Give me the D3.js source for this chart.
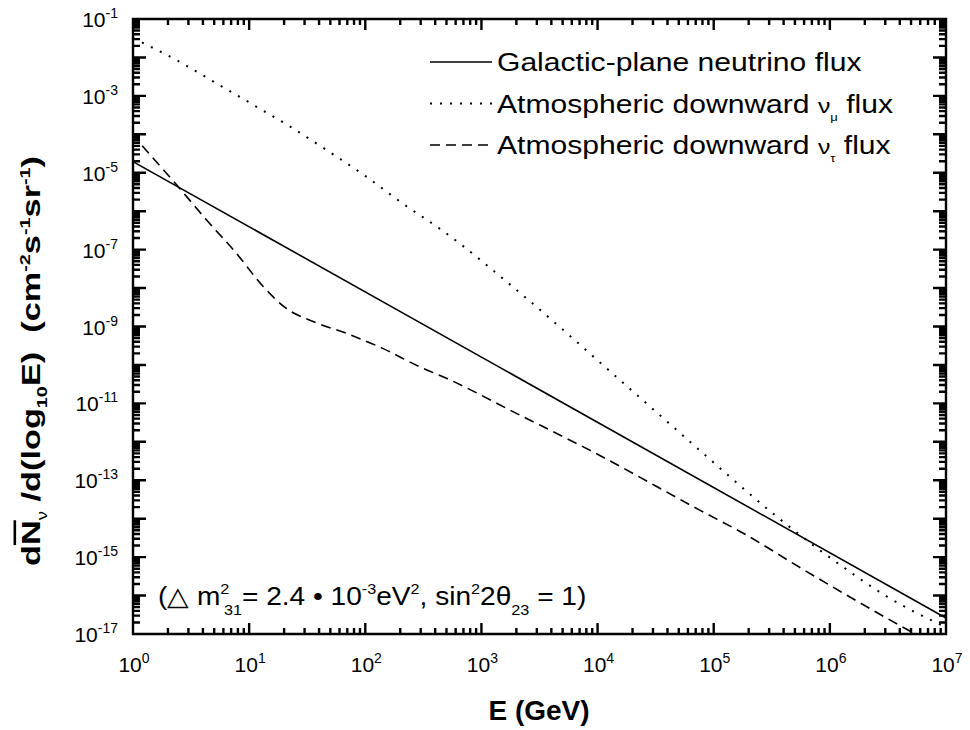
<!DOCTYPE html>
<html><head><meta charset="utf-8">
<script src="https://cdn.jsdelivr.net/npm/d3@7"></script>
<style>
body{margin:0;background:#fff}
svg{display:block}
text{font-family:"Liberation Sans",Arial,sans-serif;fill:#000;white-space:pre}
</style>
</head><body>
<svg id="c" width="970" height="730" xmlns="http://www.w3.org/2000/svg"></svg>
<script>
// ---- data ----
const xTickExponents = [0, 1, 2, 3, 4, 5, 6, 7];
const yTickExponents = [-1, -3, -5, -7, -9, -11, -13, -15, -17];

// Galactic-plane neutrino flux (solid)
const galacticE    = [1, 1e3, 1e7];
const galacticFlux = [1.95e-5, 1.6e-10, 2.6e-17];

// Atmospheric downward nu_mu flux (dotted)
const numuE    = [1, 2.5, 5.25, 10.7, 22.4, 49, 102, 209, 457, 2260, 1.45e4, 1.07e5, 1.55e5, 3.3e5, 7.1e5, 1.48e6, 3.0e6, 1e7];
const numuFlux = [3.2e-2, 7.8e-3, 2.1e-3, 6.0e-4, 1.6e-4, 3.5e-5, 7.9e-6, 1.6e-6, 3.2e-7, 6.6e-9, 4.9e-11, 2.4e-13, 9.0e-14, 1.3e-14, 2.1e-15, 4.2e-16, 1.0e-16, 1.5e-17];

// Atmospheric downward nu_tau flux (dashed)
const nutauE    = [1.2, 2.38, 4.3, 7.8, 13.2, 20.9, 35.5, 69, 141, 295, 500, 2000, 9.1e3, 7.5e4, 1.9e5, 5.4e5, 3.9e6, 5.6e6];
const nutauFlux = [5.0e-5, 4.8e-6, 5.9e-7, 7.9e-8, 1.1e-8, 2.95e-9, 1.35e-9, 6.6e-10, 2.7e-10, 8.9e-11, 4.5e-11, 5.5e-12, 5.5e-13, 1.7e-14, 3.8e-15, 5.6e-16, 1.74e-17, 9.5e-18];

const legendLabels = ["Galactic-plane neutrino flux", "Atmospheric downward ", "Atmospheric downward "];
const legendSubs = [null, "\u03bc", "\u03c4"];

// ---- layout ----
const L = 133, R = 946, T = 19, B = 634;
const svg = d3.select("#c");
const x = d3.scaleLog().domain([1, 1e7]).range([L, R]);
const y = d3.scaleLog().domain([1e-17, 1e-1]).range([B, T]);

const xMajor = xTickExponents.map(e => Math.pow(10, e));
const xMinor = [];
for (let e = 0; e < 7; e++) for (let k = 2; k <= 9; k++) xMinor.push(k * Math.pow(10, e));
const yMajor = d3.range(-17, 0).map(e => Math.pow(10, e));
const yMinor = [];
for (let e = -17; e < -1; e++) for (let k = 2; k <= 9; k++) yMinor.push(k * Math.pow(10, e));

// curves
svg.append("clipPath").attr("id", "pc").append("rect")
  .attr("x", L).attr("y", T).attr("width", R - L).attr("height", B - T);
const line = d3.line().x(d => x(d[0])).y(d => y(d[1])).curve(d3.curveMonotoneX);
const series = [
  {E: galacticE, F: galacticFlux, dash: null, w: 1.6},
  {E: numuE, F: numuFlux, dash: "2,8", w: 2},
  {E: nutauE, F: nutauFlux, dash: "10,6", w: 1.6}
];
series.forEach(s => {
  svg.append("path").attr("clip-path", "url(#pc)")
    .datum(s.E.map((e, i) => [e, s.F[i]]))
    .attr("d", line).attr("fill", "none").attr("stroke", "#000")
    .attr("stroke-width", s.w).attr("stroke-dasharray", s.dash);
});

// frame + inward ticks on all four sides, combined in one path built from the scales
const p = d3.path();
p.moveTo(L, T); p.lineTo(R, T); p.lineTo(R, B); p.lineTo(L, B); p.closePath();
function xt(vals, s) {
  vals.forEach(v => {
    const px = x(v);
    p.moveTo(px, B); p.lineTo(px, B - s);
    p.moveTo(px, T); p.lineTo(px, T + s);
  });
}
function yt(vals, s) {
  vals.forEach(v => {
    const py = y(v);
    p.moveTo(L, py); p.lineTo(L + s, py);
    p.moveTo(R, py); p.lineTo(R - s, py);
  });
}
xt(xMajor, 11); xt(xMinor, 6);
yt(yMajor, 13); yt(yMinor, 7);
svg.append("path").attr("d", p.toString())
  .attr("fill", "none").attr("stroke", "#000").attr("stroke-width", 2.4);

// tick labels
xTickExponents.forEach(e => {
  const t = svg.append("text").attr("x", x(Math.pow(10, e)) + 1).attr("y", 672)
    .attr("text-anchor", "middle").style("font-size", "21px");
  t.append("tspan").text("10");
  t.append("tspan").attr("dy", -9).style("font-size", "14px").text(String(e));
});
yTickExponents.forEach(e => {
  const t = svg.append("text").attr("x", 118).attr("y", y(Math.pow(10, e)) + 8)
    .attr("text-anchor", "end").style("font-size", "21px");
  t.append("tspan").text("10");
  t.append("tspan").attr("dy", -9).style("font-size", "14px").text(String(e));
});

// legend
const legY = [62, 103.5, 145];
series.forEach((s, i) => {
  svg.append("line").attr("x1", 430).attr("x2", 492).attr("y1", legY[i]).attr("y2", legY[i])
    .attr("stroke", "#000").attr("stroke-width", s.w).attr("stroke-dasharray", s.dash);
  const t = svg.append("text").attr("transform", `translate(497,${legY[i] + 9}) scale(1.18,1)`)
    .style("font-size", "25.5px");
  t.append("tspan").text(legendLabels[i]);
  if (legendSubs[i]) {
    t.append("tspan").style("font-size", "21px").text("\u03bd");
    t.append("tspan").attr("dy", 8).style("font-size", "11px").text(legendSubs[i]);
    t.append("tspan").attr("dy", -8).text(" flux");
  }
});

// annotation
{
  const t = svg.append("text").attr("transform", "translate(158,605) scale(1.08,1)").style("font-size", "26px");
  t.append("tspan").text("(\u25b3 m");
  t.append("tspan").attr("dy", -11).style("font-size", "15px").text("2");
  t.append("tspan").attr("dy", 21).attr("dx", -5).style("font-size", "15px").text("31");
  t.append("tspan").attr("dy", -10).text("= 2.4 \u2022 10");
  t.append("tspan").attr("dy", -11).style("font-size", "15px").text("-3");
  t.append("tspan").attr("dy", 11).text("eV");
  t.append("tspan").attr("dy", -11).style("font-size", "15px").text("2");
  t.append("tspan").attr("dy", 11).text(", sin");
  t.append("tspan").attr("dy", -11).style("font-size", "15px").text("2");
  t.append("tspan").attr("dy", 11).text("2\u03b8");
  t.append("tspan").attr("dy", 10).style("font-size", "15px").text("23");
  t.append("tspan").attr("dy", -10).text(" = 1)");
}

// axis titles
svg.append("text").attr("x", 539).attr("y", 720).attr("text-anchor", "middle")
  .style("font-size", "28px").style("font-weight", "bold").text("E (GeV)");

{
  const t = svg.append("text").attr("transform", "translate(40,361) rotate(-90) scale(1.32,1)")
    .attr("text-anchor", "middle").style("font-size", "26px").style("font-weight", "bold");
  t.append("tspan").text("d");
  t.append("tspan").style("text-decoration", "overline").text("N");
  t.append("tspan").attr("dy", 7).style("font-size", "14px").style("font-weight", "normal").text("\u03bd");
  t.append("tspan").attr("dy", -7).text(" /d(log");
  t.append("tspan").attr("dy", 7).style("font-size", "15px").text("10");
  t.append("tspan").attr("dy", -7).text("E)  (cm");
  t.append("tspan").attr("dy", -10).style("font-size", "15px").text("-2");
  t.append("tspan").attr("dy", 10).text("s");
  t.append("tspan").attr("dy", -10).style("font-size", "15px").text("-1");
  t.append("tspan").attr("dy", 10).text("sr");
  t.append("tspan").attr("dy", -10).style("font-size", "15px").text("-1");
  t.append("tspan").attr("dy", 10).text(")");
}
</script>
</body></html>
